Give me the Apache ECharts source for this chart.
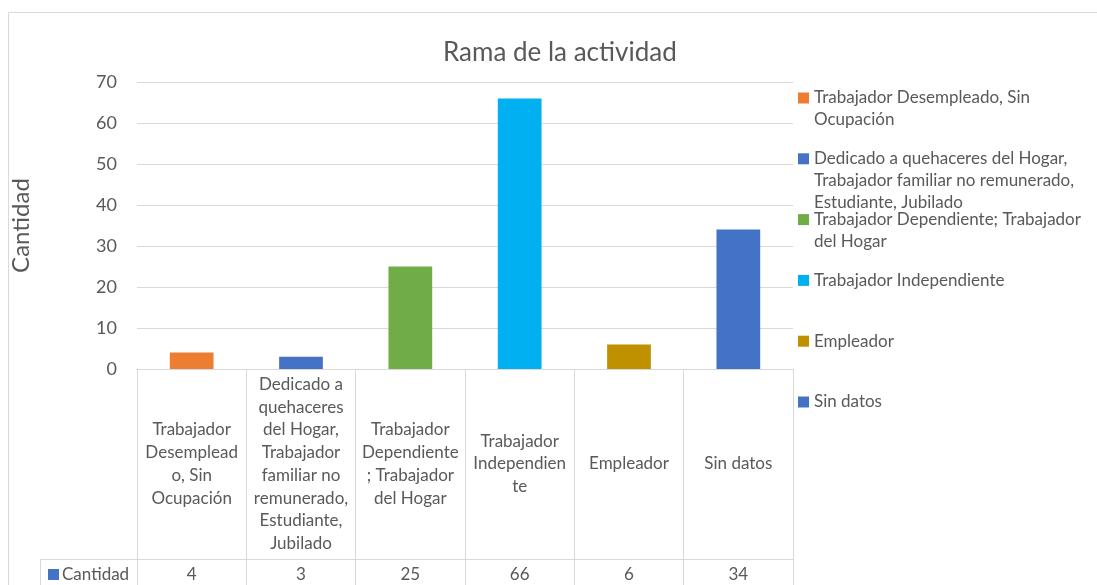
<!DOCTYPE html>
<html>
<head>
<meta charset="utf-8">
<script src="https://cdn.jsdelivr.net/npm/echarts@6/dist/echarts.min.js"></script>
<style>
html,body{margin:0;padding:0;background:#fff;}
#chart{width:1097px;height:585px;}
</style>
</head>
<body>
<div id="chart"></div>
<script>
// datos
var categorias = [
  'Trabajador Desempleado, Sin Ocupación',
  'Dedicado a quehaceres del Hogar, Trabajador familiar no remunerado, Estudiante, Jubilado',
  'Trabajador Dependiente; Trabajador del Hogar',
  'Trabajador Independiente',
  'Empleador',
  'Sin datos'
];
var cantidad = [4, 3, 25, 66, 6, 34];
var colores = ['#ED7D31', '#4472C4', '#70AD47', '#00B0F0', '#BF9000', '#4472C4'];
// texto de la tabla (como sale cortado en la celda)
var etiquetasTabla = [
  'Trabajador\nDesemplead\no, Sin\nOcupación',
  'Dedicado a\nquehaceres\ndel Hogar,\nTrabajador\nfamiliar no\nremunerado,\nEstudiante,\nJubilado',
  'Trabajador\nDependiente\n; Trabajador\ndel Hogar',
  'Trabajador\nIndependien\nte',
  'Empleador',
  'Sin datos'
];
var etiquetasLeyenda = [
  'Trabajador Desempleado, Sin\nOcupación',
  'Dedicado a quehaceres del Hogar,\nTrabajador familiar no remunerado,\nEstudiante, Jubilado',
  'Trabajador Dependiente; Trabajador\ndel Hogar',
  'Trabajador Independiente',
  'Empleador',
  'Sin datos'
];
var yTicks = [0, 10, 20, 30, 40, 50, 60, 70];

var FONT = 'Lato';
var GRIS = '#595959';
var LINEA = '#d9d9d9';
var LH = 21.7;

var myChart = echarts.init(document.getElementById('chart'));

var series = categorias.map(function (c, i) {
  return {
    name: c,
    type: 'bar',
    barWidth: '40%',
    barGap: '-100%',
    itemStyle: { color: colores[i] },
    data: cantidad.map(function (v, j) { return j === i ? v : '-'; })
  };
});

// cada entrada de la leyenda va sola, con el cuadrito alineado a la primera linea
var leyendas = categorias.map(function (c, i) {
  var n = etiquetasLeyenda[i].split('\n').length;
  var centro = 98 + i * 60.8;
  var relleno = new Array(n).join('\n');
  return {
    data: [c],
    left: 798,
    top: centro - (2 * n - 1) * LH / 2,
    padding: 0,
    orient: 'vertical',
    itemWidth: 11,
    itemHeight: 11,
    icon: 'rect',
    selectedMode: false,
    formatter: function () { return relleno + etiquetasLeyenda[i]; },
    textStyle: { fontFamily: FONT, fontSize: 17, color: GRIS, lineHeight: LH }
  };
});

myChart.setOption({
  animation: false,
  title: {
    text: 'Rama de la actividad',
    left: 438, top: 35,
    textStyle: { fontFamily: FONT, fontSize: 26, fontWeight: 'normal', color: GRIS }
  },
  legend: leyendas,
  grid: { left: 137, right: 304, top: 82, bottom: 216 },
  xAxis: [{
    type: 'category',
    data: etiquetasTabla,
    axisLine: { lineStyle: { color: LINEA } },
    axisTick: { show: true, length: 230, lineStyle: { color: LINEA } },
    axisLabel: {
      interval: 0, margin: 95, verticalAlign: 'middle',
      fontFamily: FONT, fontSize: 17, color: GRIS, lineHeight: 22.7, align: 'center'
    }
  }, {
    type: 'category',
    position: 'bottom',
    offset: 190,
    data: cantidad.map(String),
    axisLine: { show: true, lineStyle: { color: LINEA } },
    axisTick: { show: false },
    axisLabel: {
      interval: 0, margin: 16, verticalAlign: 'middle',
      fontFamily: FONT, fontSize: 17, color: GRIS
    }
  }],
  yAxis: {
    type: 'value',
    min: yTicks[0], max: yTicks[yTicks.length - 1], interval: 10,
    name: 'Cantidad', nameLocation: 'middle', nameGap: 104, nameRotate: 90,
    nameTextStyle: { fontFamily: FONT, fontSize: 24, color: GRIS },
    axisLine: { show: false }, axisTick: { show: false },
    axisLabel: { margin: 20, fontFamily: FONT, fontSize: 18, color: GRIS },
    splitLine: { lineStyle: { color: LINEA, width: 1 } }
  },
  graphic: [
    { type: 'rect', shape: { x: 8.5, y: 12.5, width: 1200, height: 700 }, style: { fill: 'none', stroke: LINEA, lineWidth: 1 }, silent: true, z: -10 },
    { type: 'rect', shape: { x: 40.5, y: 559.5, width: 97, height: 60 }, style: { fill: 'none', stroke: LINEA, lineWidth: 1 }, silent: true },
    { type: 'rect', shape: { x: 48, y: 569, width: 11, height: 11 }, style: { fill: colores[1] }, silent: true },
    { type: 'text', x: 62, y: 575, style: { text: 'Cantidad', fontFamily: FONT, fontSize: 17, fill: GRIS, verticalAlign: 'middle' }, silent: true }
  ],
  series: series
});
</script>
</body>
</html>
